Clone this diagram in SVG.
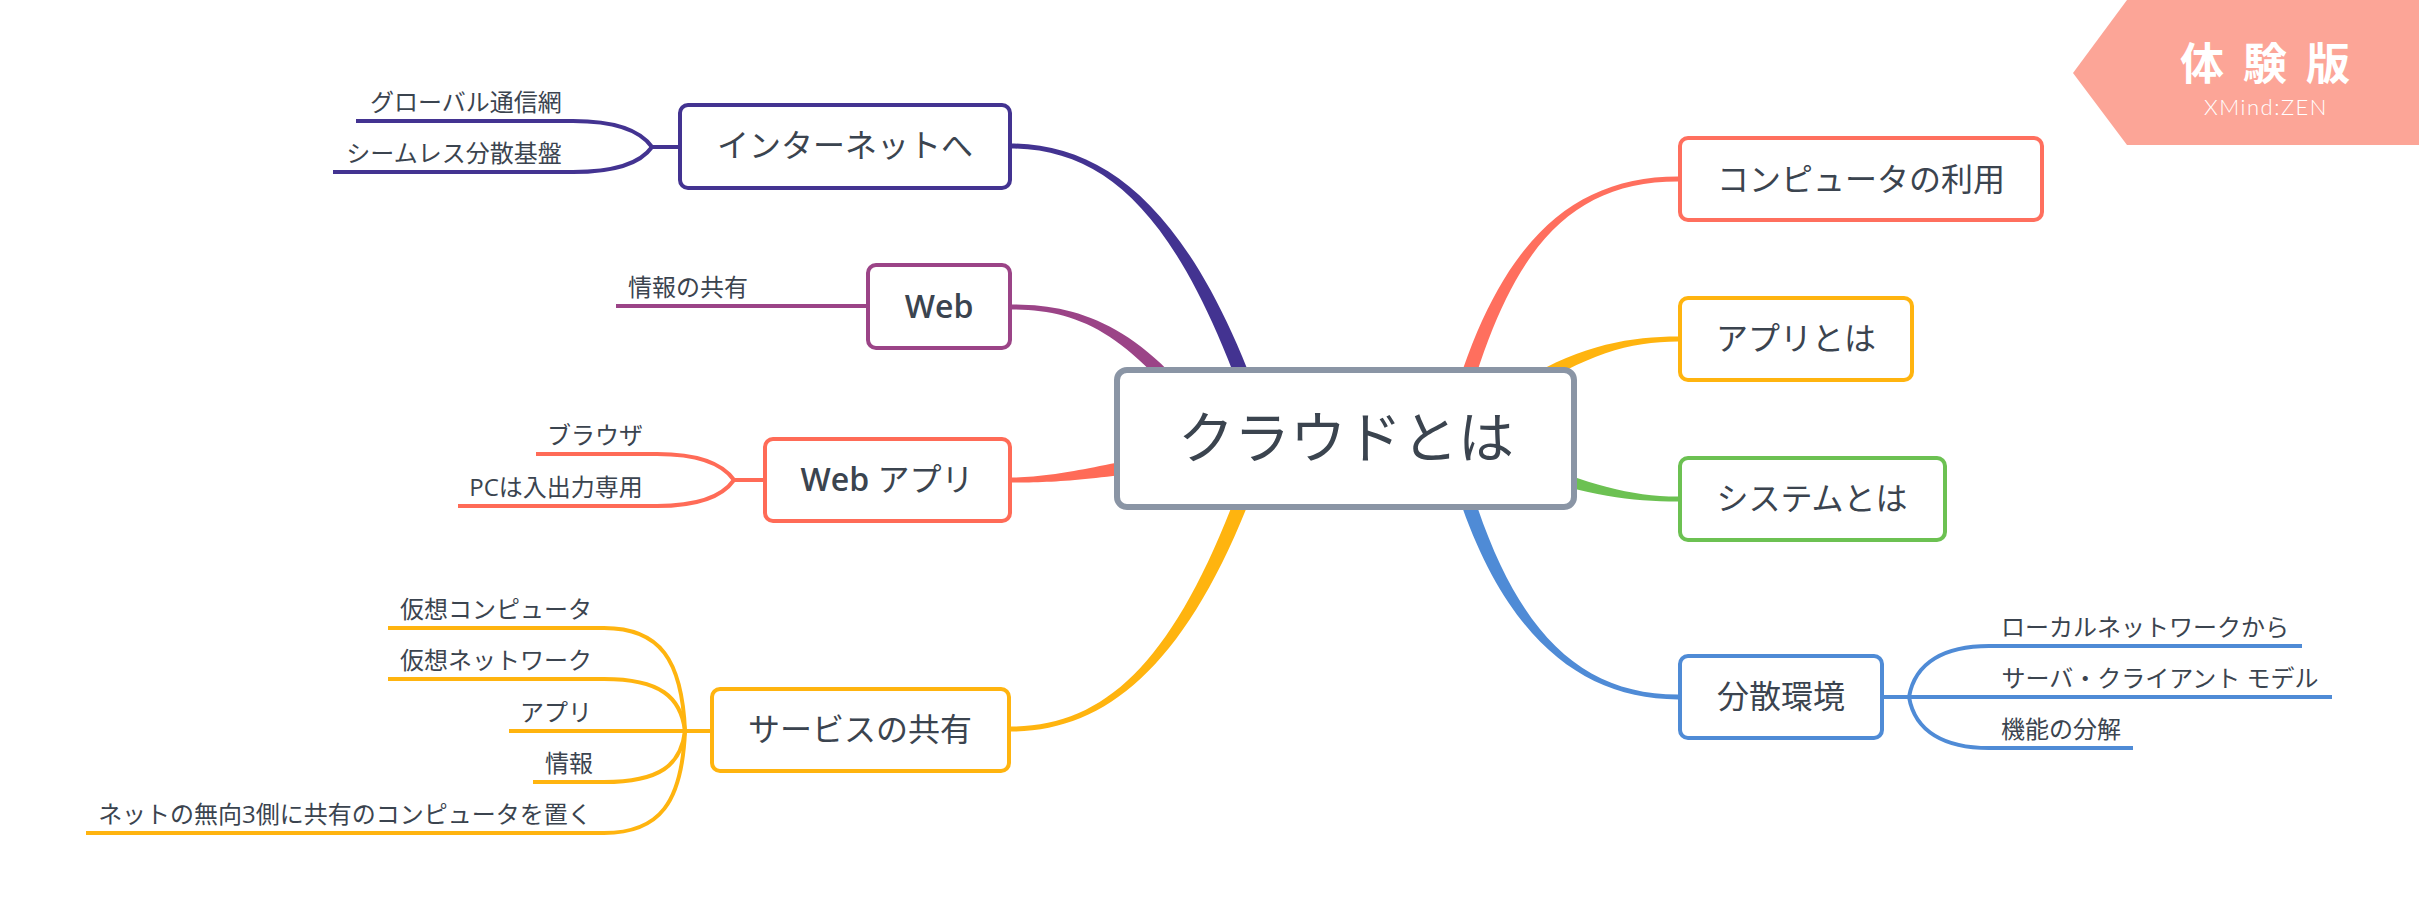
<svg xmlns="http://www.w3.org/2000/svg" width="2419" height="923" viewBox="0 0 2419 923">
<style>
.t{font-family:'Open Sans','Noto Sans CJK JP',sans-serif;fill:#3B444F;text-anchor:middle}
.main{font-size:32px}
.sub{font-size:24px}
.root{font-size:56px}
.b{font-weight:600}
.box{fill:#ffffff;stroke-width:4}
.ln{fill:none;stroke-width:4;stroke-linecap:butt}
</style>
<rect width="2419" height="923" fill="#ffffff"/>
<g id="connectors">
<path fill="#433391" d="M1010,148.5 C1115,148.5 1187.9,227.3 1257.9,442.3 L1272.1,437.7 C1202.1,222.7 1115,143.5 1010,143.5Z"/>
<path fill="#9B4487" d="M1012,309.5 C1080,309.5 1133.8,334.2 1208.8,444.2 L1221.2,435.8 C1146.2,325.8 1080,304.5 1012,304.5Z"/>
<path fill="#FF6B57" d="M1010,482.5 C1060,482.5 1101.3,479.4 1201.3,462.4 L1198.7,447.6 C1098.7,464.6 1060,477.5 1010,477.5Z"/>
<path fill="#FFB40F" d="M1011,731.5 C1115,731.5 1202.1,652.3 1272.1,437.3 L1257.9,432.7 C1187.9,647.7 1115,726.5 1011,726.5Z"/>
<path fill="#FF6F5E" d="M1678,176.5 C1560,176.5 1487.7,258.2 1442.7,438.2 L1457.3,441.8 C1502.3,261.8 1560,181.5 1678,181.5Z"/>
<path fill="#FFB40F" d="M1678,336.5 C1620,336.5 1555.3,349.2 1475.3,414.2 L1484.7,425.8 C1564.7,360.8 1620,341.5 1678,341.5Z"/>
<path fill="#6CC152" d="M1678,496.5 C1620,496.5 1572.7,478 1482.7,443 L1477.3,457 C1567.3,492 1620,501.5 1678,501.5Z"/>
<path fill="#4F8BD6" d="M1678,694.5 C1570,694.5 1502.3,618.2 1457.3,438.2 L1442.7,441.8 C1487.7,621.8 1570,699.5 1678,699.5Z"/>
<g stroke="#433391" class="ln">
<path d="M680,147 L652,147"/>
<path d="M652,147 C640,130 615,121 573,121 L356,121"/>
<path d="M652,147 C640,164 615,172 573,172 L333,172"/>
</g>
<g stroke="#9B4487" class="ln">
<path d="M868,306 L616,306"/>
</g>
<g stroke="#FF6B57" class="ln">
<path d="M765,480 L734,480"/>
<path d="M734,480 C722,463 695,454 657,454 L536,454"/>
<path d="M734,480 C722,497 695,506 657,506 L458,506"/>
</g>
<g stroke="#FFB40F" class="ln">
<path d="M712,731 L685,731"/>
<path d="M685,731 C682,660 660,628 604,628 L388,628"/>
<path d="M685,731 C681,697 660,679 604,679 L388,679"/>
<path d="M685,731 L509,731"/>
<path d="M685,731 C681,765 660,782 604,782 L533,782"/>
<path d="M685,731 C682,802 660,833 604,833 L86,833"/>
</g>
<g stroke="#4F8BD6" class="ln">
<path d="M1882,697 L1909,697"/>
<path d="M1909,697 C1915,662 1945,646 1989,646 L2302,646"/>
<path d="M1909,697 L2332,697"/>
<path d="M1909,697 C1915,732 1945,748 1989,748 L2133,748"/>
</g>
</g>
<g id="root">
<rect x="1117" y="370" width="457" height="137" rx="10" fill="#ffffff" stroke="#8A95A5" stroke-width="6"/>
<text class="t root" x="1346" y="458">クラウドとは</text>
</g>
<g id="internet">
<rect class="box" x="680" y="105" width="330" height="83" rx="8" stroke="#433391"/>
<text class="t main" x="845" y="157">インターネットへ</text>
<text class="t sub" x="466" y="111">グローバル通信網</text>
<text class="t sub" x="454" y="162">シームレス分散基盤</text>
</g>
<g id="web">
<rect class="box" x="868" y="265" width="142" height="83" rx="8" stroke="#9B4487"/>
<text class="t main" x="939" y="318"><tspan class="b">Web</tspan></text>
<text class="t sub" x="688" y="296">情報の共有</text>
</g>
<g id="webapp">
<rect class="box" x="765" y="439" width="245" height="82" rx="8" stroke="#FF6B57"/>
<text class="t main" x="887" y="491"><tspan class="b">Web</tspan> アプリ</text>
<text class="t sub" x="595" y="444">ブラウザ</text>
<text class="t sub" x="556" y="496">PCは入出力専用</text>
</g>
<g id="service">
<rect class="box" x="712" y="689" width="297" height="82" rx="8" stroke="#FFB40F"/>
<text class="t main" x="860" y="741">サービスの共有</text>
<text class="t sub" x="496" y="618">仮想コンピュータ</text>
<text class="t sub" x="496" y="669">仮想ネットワーク</text>
<text class="t sub" x="556" y="721">アプリ</text>
<text class="t sub" x="569" y="772">情報</text>
<text class="t sub" x="345" y="823">ネットの無向3側に共有のコンピュータを置く</text>
</g>
<g id="computer">
<rect class="box" x="1680" y="138" width="362" height="82" rx="8" stroke="#FF6F5E"/>
<text class="t main" x="1861" y="191">コンピュータの利用</text>
</g>
<g id="app">
<rect class="box" x="1680" y="298" width="232" height="82" rx="8" stroke="#FFB40F"/>
<text class="t main" x="1796" y="350">アプリとは</text>
</g>
<g id="system">
<rect class="box" x="1680" y="458" width="265" height="82" rx="8" stroke="#6CC152"/>
<text class="t main" x="1812" y="510">システムとは</text>
</g>
<g id="distributed">
<rect class="box" x="1680" y="656" width="202" height="82" rx="8" stroke="#4F8BD6"/>
<text class="t main" x="1781" y="708">分散環境</text>
<text class="t sub" x="2145" y="636">ローカルネットワークから</text>
<text class="t sub" x="2160" y="687">サーバ・クライアント モデル</text>
<text class="t sub" x="2061" y="738">機能の分解</text>
</g>
<g id="badge">
<polygon points="2073,73 2127,0 2419,0 2419,145 2127,145" fill="#FCA597"/>
<text x="2180" y="80" font-family="'Noto Sans CJK JP',sans-serif" font-size="44" font-weight="700" fill="#ffffff" letter-spacing="19">体験版</text>
<text x="2266" y="115" font-family="Lato,'Open Sans',sans-serif" font-size="22" font-weight="300" fill="#ffffff" text-anchor="middle" letter-spacing="1.5">XMind:ZEN</text>
</g>
</svg>
